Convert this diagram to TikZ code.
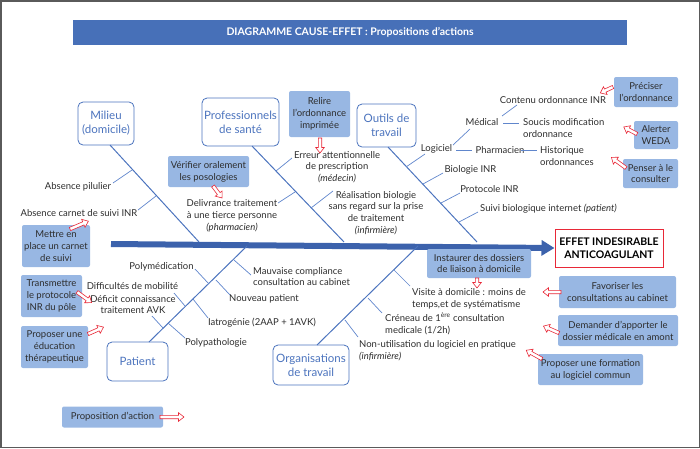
\documentclass[tikz,border=0pt]{standalone}
\usepackage{fontspec}
\setmainfont{Lato}
\usetikzlibrary{arrows.meta}
\definecolor{bluebar}{RGB}{71,112,184}
\definecolor{catblue}{RGB}{76,116,190}
\definecolor{actfill}{RGB}{152,183,227}
\definecolor{txt}{RGB}{45,45,45}
\definecolor{arrred}{RGB}{232,40,55}
\definecolor{spine}{RGB}{60,98,172}
\definecolor{twig}{RGB}{96,134,204}
\definecolor{frame}{RGB}{90,90,90}
\begin{document}
\begin{tikzpicture}[x=1pt,y=-1pt,
  font=\fontsize{9.5}{11.8}\selectfont,
  cat/.style={draw=catblue, line width=0.8pt, rounded corners=5pt, fill=white, text=catblue, align=center, font=\fontsize{11.5}{14}\selectfont, inner sep=0pt},
  act/.style={fill=actfill, rounded corners=2pt, text=txt, align=center, inner sep=0pt},
  lbl/.style={text=txt, align=center, inner sep=0pt},
  lblw/.style={text=txt, align=left, anchor=west, inner sep=0pt},
  bone/.style={draw=catblue, line width=1pt},
  twigline/.style={draw=twig, line width=0.7pt},
  pics/harr/.style={code={
    \draw[arrred, fill=white, line width=0.6pt, line join=miter]
      (0,-1.7) -- (#1-5.5,-1.7) -- (#1-5.5,-4.3) -- (#1,0) -- (#1-5.5,4.3) -- (#1-5.5,1.7) -- (0,1.7) -- cycle;
  }}
]
\useasboundingbox (0,0) rectangle (700,448);
\draw[frame, line width=1.5pt] (0.75,0.75) rectangle (699.25,447.25);

% title
\node[fill=bluebar, minimum width=554pt, minimum height=25pt, inner sep=0pt, text=white, font=\bfseries\fontsize{10.5}{12}\selectfont] (title) at (350,32.5) {DIAGRAMME CAUSE-EFFET : Propositions d’actions};

% spine and effect
\node[draw=arrred, line width=1pt, fill=white, minimum width=108pt, minimum height=38pt, inner sep=0pt, align=center, text=black, font=\bfseries\fontsize{10.5}{13.5}\selectfont] (eff) at (609,248) {EFFET INDESIRABLE\\ANTICOAGULANT};
\coordinate (spL) at (111,244);
\draw[spine, line width=6pt, -{Triangle[length=13pt,width=15pt]}] (spL) -- (eff.west);

% categories
\node[cat, minimum width=56pt, minimum height=43pt] (catM) at (106,123.5) {Milieu\\(domicile)};
\node[cat, minimum width=77pt, minimum height=48pt] (catP) at (240.5,122) {Professionnels\\de santé};
\node[cat, minimum width=59pt, minimum height=43pt] (catO) at (386.5,125.5) {Outils de\\travail};
\node[cat, minimum width=61pt, minimum height=39pt] (catPa) at (137.5,361.5) {Patient};
\node[cat, minimum width=76pt, minimum height=40pt] (catOr) at (311,365) {Organisations\\de travail};

% bones
\coordinate (bM0) at (110,145); \coordinate (bM1) at (199,242);
\coordinate (bP0) at (252,146); \coordinate (bP1) at (344,242);
\coordinate (bO0) at (388,147); \coordinate (bO1) at (477,242);
\coordinate (bPa0) at (247,246); \coordinate (bPa1) at (149,342);
\coordinate (bOr0) at (418,246); \coordinate (bOr1) at (317,345);
\draw[bone] (bM0) -- (bM1);
\draw[bone] (bP0) -- (bP1);
\draw[bone] (bO0) -- (bO1);
\draw[bone] (bPa0) -- (bPa1);
\draw[bone] (bOr0) -- (bOr1);

% Milieu causes
\node[lbl] (m1) at (78,187) {Absence pilulier};
\node[lbl] (m2) at (79,213) {Absence carnet de suivi INR};
\coordinate (m1a) at (113,183); \coordinate (m1b) at (132,170);
\coordinate (m2a) at (138,210); \coordinate (m2b) at (156,196);
\draw[twigline] (m1a) -- (m1b);
\draw[twigline] (m2a) -- (m2b);

% Professionnels causes
\node[lbl] (p1) at (337,167) {Erreur attentionnelle\\de prescription\\\textit{(médecin)}};
\node[lbl] (p2) at (232,216) {Delivrance traitement\\à une tierce personne\\\textit{(pharmacien)}};
\node[lbl] (p3) at (376,213) {Réalisation biologie\\sans regard sur la prise\\de traitement\\\textit{(infirmière)}};
\coordinate (p1a) at (292,158); \coordinate (p1b) at (276,171);
\coordinate (p2a) at (278,203); \coordinate (p2b) at (295,192);
\coordinate (p3a) at (333,191); \coordinate (p3b) at (311,208);
\draw[twigline] (p1a) -- (p1b);
\draw[twigline] (p2a) -- (p2b);
\draw[twigline] (p3a) -- (p3b);

% Outils causes
\node[lbl] (o1) at (436.5,149) {Logiciel};
\node[lbl] (o2) at (500,150) {Pharmacien};
\node[lblw] (o3) at (540,156) {Historique\\ordonnances};
\node[lbl] (o4) at (482,122) {Médical};
\node[lbl] (o5) at (553,100) {Contenu ordonnance INR};
\node[lblw] (o6) at (523,128) {Soucis modification\\ordonnance};
\node[lbl] (o7) at (470.5,170) {Biologie INR};
\node[lbl] (o8) at (489.5,189) {Protocole INR};
\node[lblw] (o9) at (480,209) {Suivi biologique internet \textit{(patient)}};
\coordinate (o1a) at (425,154); \coordinate (o1b) at (406,167);
\draw[twigline] (o1a) -- (o1b);
\coordinate (o2a) at (456,150); \coordinate (o2b) at (472,150);
\draw[twigline, line width=1pt] (o2a) -- (o2b);
\coordinate (o3a) at (521,150); \coordinate (o3b) at (537,150);
\draw[twigline, line width=1pt] (o3a) -- (o3b);
\coordinate (o4a) at (453,145); \coordinate (o4b) at (470,129);
\draw[twigline] (o4a) -- (o4b);
\coordinate (o5a) at (502,116); \coordinate (o5b) at (517,105);
\draw[twigline] (o5a) -- (o5b);
\coordinate (o6a) at (503,123); \coordinate (o6b) at (519,123);
\draw[twigline, line width=1pt] (o6a) -- (o6b);
\coordinate (o7a) at (443,173); \coordinate (o7b) at (423,184);
\draw[twigline] (o7a) -- (o7b);
\coordinate (o8a) at (460,193); \coordinate (o8b) at (441,203);
\draw[twigline] (o8a) -- (o8b);
\coordinate (o9a) at (478,212); \coordinate (o9b) at (459,222);
\draw[twigline] (o9a) -- (o9b);

% Patient causes
\node[lblw] (pa1) at (253,276.5) {Mauvaise compliance\\consultation au cabinet};
\node[lbl] (pa2) at (161.5,267) {Polymédication};
\node[lbl] (pa3) at (264,299) {Nouveau patient};
\node[lbl] (pa4) at (132.5,286) {Difficultés de mobilité};
\node[lbl] (pa5) at (133,304.5) {Déficit connaissance\\traitement AVK};
\node[lbl] (pa6) at (262,323) {Iatrogénie (2AAP + 1AVK)};
\node[lbl] (pa7) at (216,343) {Polypathologie};
\coordinate (pa1a) at (234,260); \coordinate (pa1b) at (251,275);
\coordinate (pa2a) at (195,269); \coordinate (pa2b) at (209,284);
\coordinate (pa3a) at (216,280); \coordinate (pa3b) at (230,295);
\coordinate (pa4a) at (174,293); \coordinate (pa4b) at (185,306);
\coordinate (pa5a) at (152,316); \coordinate (pa5b) at (163,328);
\coordinate (pa6a) at (193,299); \coordinate (pa6b) at (208,318);
\coordinate (pa7a) at (168,323); \coordinate (pa7b) at (185,338);
\foreach \i in {1,...,7} {\draw[twigline] (pa\i a) -- (pa\i b);}

% Organisations causes
\node[lblw] (or1) at (412,298.5) {Visite à domicile : moins de\\temps,et de systématisme};
\node[lblw] (or2) at (385,324) {Créneau de 1\textsuperscript{ère} consultation\\medicale (1/2h)};
\node[lblw] (or3) at (359,350.5) {Non-utilisation du logiciel en pratique\\\textit{(infirmière)}};
\coordinate (or1a) at (394,270); \coordinate (or1b) at (410,286);
\coordinate (or2a) at (368,298); \coordinate (or2b) at (382,313);
\coordinate (or3a) at (345,320); \coordinate (or3b) at (358,337);
\foreach \i in {1,2,3} {\draw[twigline] (or\i a) -- (or\i b);}

% action boxes
\node[act, minimum width=61pt, minimum height=46pt] (a1) at (319.5,114) {Relire\\l’ordonnance\\imprimée};
\node[act, minimum width=81pt, minimum height=31pt] (a2) at (208.5,171.5) {Vérifier oralement\\les posologies};
\node[act, minimum width=68pt, minimum height=42pt] (a3) at (56,246) {Mettre en\\place un carnet\\de suivi};
\node[act, minimum width=61pt, minimum height=42pt] (a4) at (51.5,296) {Transmettre\\le protocole\\INR du pôle};
\node[act, minimum width=67pt, minimum height=42pt] (a5) at (54.5,347) {Proposer une\\éducation\\thérapeutique};
\node[act, minimum width=101pt, minimum height=21pt] (a6) at (112.5,417) {Proposition d’action};
\node[act, minimum width=64pt, minimum height=30pt] (a7) at (646,92) {Préciser\\l’ordonnance};
\node[act, minimum width=44pt, minimum height=28pt] (a8) at (656,135) {Alerter\\WEDA};
\node[act, minimum width=55pt, minimum height=29pt] (a9) at (650.5,173.5) {Penser à le\\consulter};
\node[act, minimum width=104pt, minimum height=29pt] (a10) at (479,263.5) {Instaurer des dossiers\\de liaison à domicile};
\node[act, minimum width=117pt, minimum height=32pt] (a11) at (617.5,292) {Favoriser les\\consultations au cabinet};
\node[act, minimum width=120pt, minimum height=31pt] (a12) at (618,330.5) {Demander d’apporter le\\dossier médicale en amont};
\node[act, minimum width=105pt, minimum height=31pt] (a13) at (590.5,369.5) {Proposer une formation\\au logiciel commun};

% red hollow arrows (placed at their tail)
\pic[rotate=-90] at (320,138) {harr=15};
\pic[rotate=-53] at (213,186) {harr=15};
\pic[rotate=23] at (70,229) {harr=20};
\pic[rotate=-36] at (77,292) {harr=18};
\pic[rotate=24] at (88,334) {harr=17};
\pic[rotate=0] at (160,417) {harr=24};
\pic[rotate=205] at (613,87) {harr=14};
\pic[rotate=152] at (637,134) {harr=15};
\pic[rotate=144] at (626,168) {harr=18};
\pic[rotate=-90] at (477,278) {harr=10};
\pic[rotate=180] at (561,292) {harr=18};
\pic[rotate=156] at (559,333) {harr=17};
\pic[rotate=151] at (542,359) {harr=18};
\end{tikzpicture}
\end{document}
